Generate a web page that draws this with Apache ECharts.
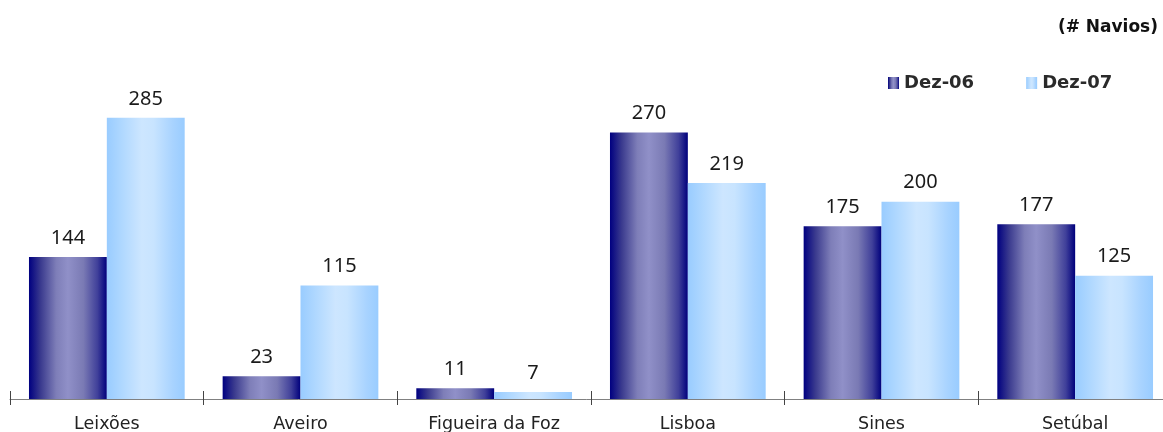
<!DOCTYPE html>
<html><head><meta charset="utf-8">
<script src="https://cdn.jsdelivr.net/npm/echarts@6/dist/echarts.min.js"></script>
<style>html,body{margin:0;padding:0;background:#fff}#c{width:1163px;height:432px}</style>
</head><body><div id="c"></div>
<script>
const categories = ['Leixões', 'Aveiro', 'Figueira da Foz', 'Lisboa', 'Sines', 'Setúbal'];
const dez06 = [144, 23, 11, 270, 175, 177];
const dez07 = [285, 115, 7, 219, 200, 125];
const seriesNames = ['Dez-06', 'Dez-07'];
const unitLabel = '(# Navios)';

function grad(stops) {
  return new echarts.graphic.LinearGradient(0, 0, 1, 0, stops.map(s => ({offset: s[0], color: s[1]})));
}
const darkGrad = grad([[0, '#000080'], [0.15, '#3a3a8e'], [0.35, '#7e7eb8'], [0.5, '#9090c8'], [0.7, '#7a7ab4'], [0.88, '#40409a'], [1, '#00007c']]);
const lightGrad = grad([[0, '#99ccff'], [0.2, '#b0d8ff'], [0.45, '#cde6ff'], [0.6, '#c8e4ff'], [0.85, '#a8d3ff'], [1, '#99ccff']]);

const GRID_H = 296;
const chart = echarts.init(document.getElementById('c'), null, {renderer: 'canvas'});
const labelStyle = {show: true, position: 'top', distance: 9, fontFamily: 'Noto Sans', fontSize: 20, color: '#1a1a1a'};
chart.setOption({
  animation: false,
  title: {text: unitLabel, right: 0, top: 14, textStyle: {fontFamily: 'DejaVu Sans', fontWeight: 'bold', fontSize: 17, color: '#111'}},
  legend: {
    left: 883, top: 69, itemWidth: 11, itemHeight: 12, itemGap: 52,
    data: seriesNames.map(n => ({name: n, icon: 'rect'})),
    textStyle: {fontFamily: 'DejaVu Sans', fontWeight: 'bold', fontSize: 18, color: '#2a2a2a'}
  },
  grid: {left: 10, top: 103, width: 1162, height: GRID_H, containLabel: false, outerBoundsMode: 'none'},
  xAxis: [{
    type: 'category', data: categories, position: 'bottom',
    axisLine: {lineStyle: {color: '#808080', width: 1}},
    axisTick: {show: true, length: 6, lineStyle: {color: '#444'}},
    axisLabel: {fontFamily: 'DejaVu Sans', fontSize: 17.5, color: '#222', margin: 16}
  }, {
    type: 'category', data: categories, position: 'top', offset: -GRID_H,
    axisLine: {show: true, onZero: false, lineStyle: {color: 'rgba(0,0,0,0)'}},
    axisTick: {show: true, inside: false, length: 8, lineStyle: {color: '#444'}},
    axisLabel: {show: false}
  }],
  yAxis: {type: 'value', min: 0, max: 300, show: false, splitLine: {show: false}},
  series: [
    {name: seriesNames[0], type: 'bar', data: dez06, barGap: '0%', barCategoryGap: '19.6%', itemStyle: {color: darkGrad}, label: labelStyle},
    {name: seriesNames[1], type: 'bar', data: dez07, barGap: '0%', barCategoryGap: '19.6%', itemStyle: {color: lightGrad}, label: labelStyle}
  ]
});
</script></body></html>
